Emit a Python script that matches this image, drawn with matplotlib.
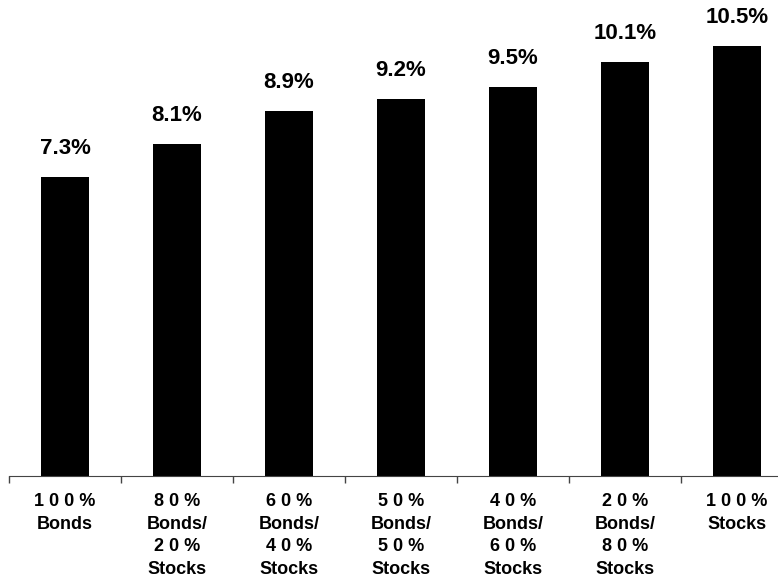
import matplotlib.pyplot as plt
import numpy as np

categories = [
    "1 0 0 %\nBonds",
    "8 0 %\nBonds/\n2 0 %\nStocks",
    "6 0 %\nBonds/\n4 0 %\nStocks",
    "5 0 %\nBonds/\n5 0 %\nStocks",
    "4 0 %\nBonds/\n6 0 %\nStocks",
    "2 0 %\nBonds/\n8 0 %\nStocks",
    "1 0 0 %\nStocks",
]
returns = [7.3, 8.1, 8.9, 9.2, 9.5, 10.1, 10.5]

plt.rcParams["font.family"] = ["Liberation Sans", "DejaVu Sans"]

fig = plt.figure(figsize=(7.78, 5.78), dpi=100)
# axis runs off the right edge of the figure
ax = fig.add_axes([9 / 778, 102 / 578, 784 / 778, 476 / 578])

x = np.arange(len(returns))
bars = ax.bar(x, returns, width=0.42, color="black")

for xi, v in zip(x, returns):
    ax.annotate(f"{v}%", (xi, v), xytext=(0, 13), textcoords="offset points",
                ha="center", va="bottom", fontsize=16, fontweight="bold")

ax.set_xlim(-0.5, len(returns) - 0.5)
ax.set_ylim(0, 11.62)

ax.set_xticks(x)
ax.set_xticklabels(categories, fontsize=13, fontweight="bold", linespacing=1.45)
ax.tick_params(axis="x", which="major", length=0, pad=12)
ax.set_xticks(np.arange(-0.5, len(returns), 1.0), minor=True)
ax.tick_params(axis="x", which="minor", length=5, width=1, color="#444444", direction="out")

ax.set_yticks([])
for side in ["top", "right", "left"]:
    ax.spines[side].set_visible(False)
ax.spines["bottom"].set_color("#444444")

fig.savefig("out.png", dpi=100)
